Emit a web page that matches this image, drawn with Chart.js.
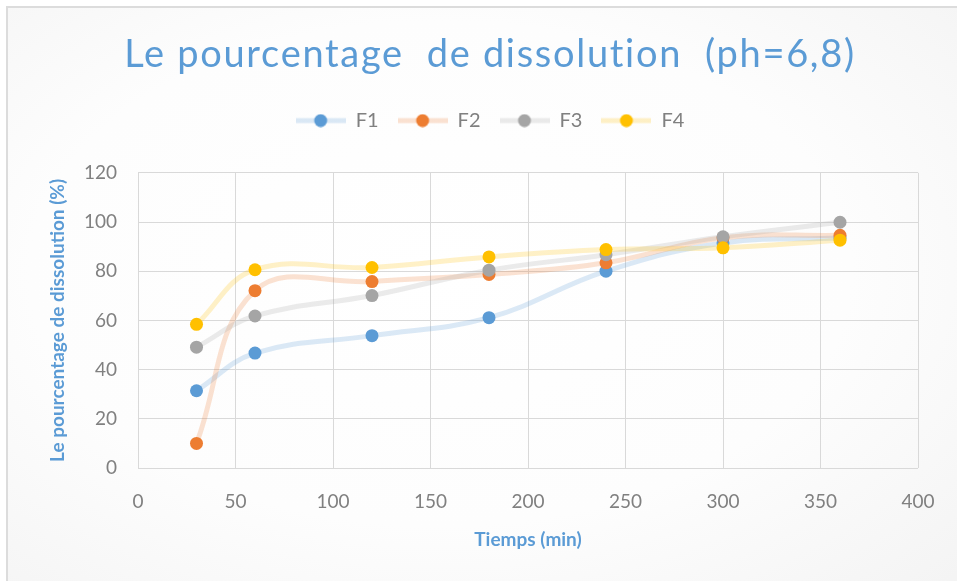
<!DOCTYPE html>
<html>
<head>
<meta charset="utf-8">
<script src="https://cdn.jsdelivr.net/npm/chart.js@4"></script>
<style>
  html, body { margin: 0; padding: 0; background: #fff; }
  #wrap {
    position: relative; width: 957px; height: 581px; overflow: hidden;
  }
  #frame {
    position: absolute; left: 6px; top: 6px; width: 960px; height: 590px;
    border-left: 2px solid #dcdcdc; border-top: 2px solid #dcdcdc;
    background: radial-gradient(ellipse at 45% 45%, #ffffff 0%, #fdfdfd 55%, #f3f3f3 100%);
  }
  canvas { position: absolute; left: 0; top: 0; }
</style>
</head>
<body>
<div id="wrap">
  <div id="frame"></div>
  <canvas id="chart" width="957" height="581"></canvas>
</div>
<script>
// temps de prélèvement (min)
const temps = [30, 60, 120, 180, 240, 300, 360]

// pourcentage dissous pour chaque formule
const f1 = [31.4, 46.7, 53.8, 61.1, 80.0, 91.5, 93.5]
const f2 = [10.0, 72.1, 75.8, 78.7, 83.4, 93.6, 94.6]
const f3 = [49.1, 61.8, 70.1, 80.4, 86.7, 94.0, 99.9]
const f4 = [58.4, 80.6, 81.5, 85.8, 88.8, 89.5, 92.6]

const noms = ['F1', 'F2', 'F3', 'F4']
const series = [f1, f2, f3, f4]
const couleurs = ['#5B9BD5', '#ED7D31', '#A5A5A5', '#FFC000']
const traits = ['rgba(91,155,213,0.22)', 'rgba(237,125,49,0.22)', 'rgba(165,165,165,0.22)', 'rgba(255,192,0,0.22)']

// petit symbole de légende : trait + point
function symbole(i) {
    const c = document.createElement('canvas')
    c.width = 50
    c.height = 14
    const g = c.getContext('2d')
    g.strokeStyle = traits[i]
    g.lineWidth = 5
    g.beginPath()
    g.moveTo(0, 7)
    g.lineTo(50, 7)
    g.stroke()
    g.fillStyle = couleurs[i]
    g.beginPath()
    g.arc(25, 7, 6.5, 0, Math.PI * 2)
    g.fill()
    return c
}

const datasets = series.map((vals, i) => ({
    label: noms[i],
    data: vals.map((v, k) => ({ x: temps[k], y: v })),
    borderColor: traits[i],
    backgroundColor: couleurs[i],
    borderWidth: 5,
    pointRadius: 6.5,
    pointHoverRadius: 6.5,
    pointBorderWidth: 0,
    tension: 0.4,
    showLine: true,
    order: 3 - i
}))

// titre un peu espacé, comme dans Excel
const espaceTitre = {
    id: 'espaceTitre',
    beforeDraw(chart) {
        const tb = chart.titleBlock
        if (!tb || tb._espace) return
        const draw = tb.draw.bind(tb)
        tb.draw = function () {
            chart.ctx.letterSpacing = '1.7px'
            draw()
            chart.ctx.letterSpacing = '0px'
        }
        tb._espace = true
    }
}

const font = 'Lato'

new Chart(document.getElementById('chart'), {
    type: 'scatter',
    data: { datasets: datasets },
    plugins: [espaceTitre],
    options: {
        responsive: false,
        animation: false,
        layout: { padding: { top: 6, left: 62, right: 39, bottom: 6 } },
        scales: {
            x: {
                type: 'linear',
                min: 0,
                max: 400,
                ticks: { stepSize: 50, color: '#808080', font: { family: font, size: 19 }, padding: 22 },
                grid: { color: '#d9d9d9', drawTicks: false },
                border: { display: false },
                title: {
                    display: true,
                    text: 'Tiemps (min)',
                    color: '#5B9BD5',
                    font: { family: font, size: 19, weight: 'bold' },
                    padding: { top: 0, bottom: 24 }
                },
                afterFit: s => { s.height = 107 }
            },
            y: {
                min: 0,
                max: 120,
                ticks: { stepSize: 20, color: '#808080', font: { family: font, size: 19 }, padding: 21 },
                grid: { color: '#d9d9d9', drawTicks: false },
                border: { display: false },
                title: {
                    display: true,
                    text: 'Le pourcentage de dissolution (%)',
                    color: '#5B9BD5',
                    font: { family: font, size: 19, weight: 'bold' },
                    padding: { top: -16, bottom: 0 }
                },
                afterFit: s => { s.width = 76 }
            }
        },
        plugins: {
            title: {
                display: true,
                text: 'Le pourcentage  de dissolution  (ph=6,8)',
                color: '#5B9BD5',
                font: { family: font, size: 38, weight: 'normal' },
                padding: { top: 26, bottom: 14 }
            },
            // espace vide entre la légende et le graphique
            subtitle: {
                display: true,
                text: ' ',
                weight: 500,
                font: { size: 1 },
                padding: { top: 0, bottom: 31 }
            },
            legend: {
                labels: {
                    usePointStyle: true,
                    pointStyleWidth: 50,
                    padding: 19,
                    color: '#808080',
                    font: { family: font, size: 20 },
                    generateLabels: chart => chart.data.datasets.map((d, i) => ({
                        text: d.label,
                        pointStyle: symbole(i),
                        fillStyle: couleurs[i],
                        strokeStyle: couleurs[i],
                        lineWidth: 0,
                        fontColor: '#808080',
                        datasetIndex: i,
                        hidden: false
                    }))
                }
            },
            tooltip: { enabled: false }
        }
    }
})
</script>
</body>
</html>
